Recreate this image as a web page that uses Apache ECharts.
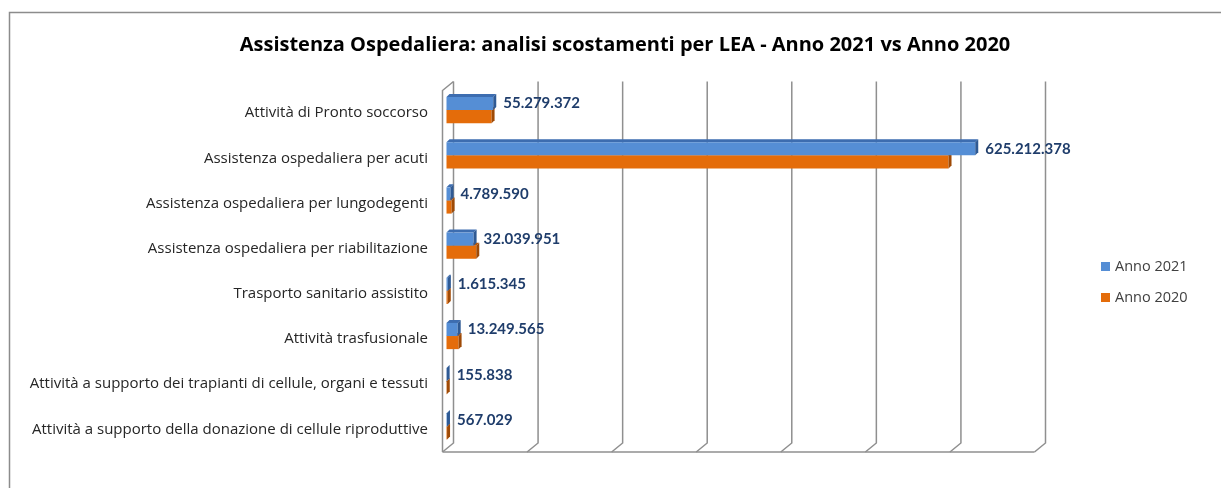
<!DOCTYPE html>
<html>
<head>
<meta charset="utf-8">
<script src="https://cdn.jsdelivr.net/npm/echarts@6/dist/echarts.min.js"></script>
<style>
  html, body { margin: 0; padding: 0; background: #fff; }
  #chart { width: 1221px; height: 488px; }
</style>
</head>
<body>
<div id="chart"></div>
<script>
// Categories (top to bottom) and yearly values in euro
const categories = [
  'Attività di Pronto soccorso',
  'Assistenza ospedaliera per acuti',
  'Assistenza ospedaliera per lungodegenti',
  'Assistenza ospedaliera per riabilitazione',
  'Trasporto sanitario assistito',
  'Attività trasfusionale',
  'Attività a supporto dei trapianti di cellule, organi e tessuti',
  'Attività a supporto della donazione di cellule riproduttive'
];
const anno2021 = [55279372, 625212378, 4789590, 32039951, 1615345, 13249565, 155838, 567029];
const anno2020 = [53300000, 593600000, 6000000, 35200000, 1500000, 14300000, 300000, 650000];
// Gridline positions on the value axis
const gridTicks = [0, 100000000, 200000000, 300000000, 400000000, 500000000, 600000000, 700000000];

const FONT = '"Open Sans", Lato, sans-serif';
const LABEL_FONT = 'Lato, "Open Sans", sans-serif';
const DEPTH_WALL_X = 5.5, DEPTH_WALL_Y = 4.5;   // half depth of the 3D walls
const BAR_DEPTH = 3;

function fmtIt(n) {
  return String(Math.round(n)).replace(/\B(?=(\d{3})+(?!\d))/g, '.');
}

// Back wall gridlines + floor slants + left wall
function renderWalls(params, api) {
  const v = api.value(0);
  const cs = params.coordSys;
  const p = api.coord([v, 0]);
  const x = p[0];
  const top = cs.y, bottom = cs.y + cs.height;
  const bx = x + DEPTH_WALL_X, by0 = top - DEPTH_WALL_Y, by1 = bottom - DEPTH_WALL_Y;
  const fx = x - DEPTH_WALL_X, fy1 = bottom + DEPTH_WALL_Y;
  const lineStyle = { stroke: '#8f8f8f', lineWidth: 1.5, fill: null };
  const children = [{
    type: 'polyline',
    shape: { points: [[bx, by0], [bx, by1], [fx, fy1]] },
    style: lineStyle, silent: true
  }];
  if (v === 0) {
    // left wall: front edge + top slant
    children.push({
      type: 'polyline',
      shape: { points: [[fx, fy1], [fx, top + DEPTH_WALL_Y], [bx, by0]] },
      style: lineStyle, silent: true
    });
    // floor front edge
    const pEnd = api.coord([gridTicks[gridTicks.length - 1], 0]);
    children.push({
      type: 'line',
      shape: { x1: fx, y1: fy1, x2: pEnd[0] - DEPTH_WALL_X, y2: fy1 },
      style: lineStyle, silent: true
    });
  }
  return { type: 'group', children: children };
}

function barRenderer(upper, colors, withLabel) {
  return function (params, api) {
    const cat = api.value(0), val = api.value(1);
    const start = api.coord([0, cat]);
    const end = api.coord([val, cat]);
    const band = api.size([0, 1])[1];
    const h = band * 0.29;
    const d = BAR_DEPTH;
    const x0 = start[0] - 1.5, x1 = end[0] - 1.5;
    const yTop = start[1] + 1.5 + (upper ? -h : 0);
    const yBot = yTop + h;
    const children = [
      { type: 'polygon', shape: { points: [[x0, yTop], [x1, yTop], [x1 + d, yTop - d], [x0 + d, yTop - d]] },
        style: { fill: colors.top } },
      { type: 'rect', shape: { x: x0, y: yTop, width: Math.max(x1 - x0, 0), height: h },
        style: { fill: colors.front } },
      { type: 'polygon', shape: { points: [[x1, yTop], [x1 + d, yTop - d], [x1 + d, yBot - d], [x1, yBot]] },
        style: { fill: colors.side } }
    ];
    if (withLabel) {
      children.push({
        type: 'text',
        style: {
          text: fmtIt(val), x: x1 + d + 7, y: (yTop + yBot) / 2,
          verticalAlign: 'middle', align: 'left',
          fill: '#1f3d6b', font: 'bold 15px ' + LABEL_FONT
        }
      });
    }
    return { type: 'group', children: children };
  };
}

const blue = { front: '#558ed5', top: '#3d6db0', side: '#2f5a94' };
const orange = { front: '#e46c0a', top: '#b85608', side: '#9f4a06' };

const chart = echarts.init(document.getElementById('chart'), null, { renderer: 'canvas' });
chart.setOption({
  backgroundColor: '#fff',
  animation: false,
  title: {
    text: 'Assistenza Ospedaliera: analisi scostamenti per LEA - Anno 2021 vs Anno 2020',
    left: 620, top: 30, textAlign: 'center',
    textStyle: { fontFamily: FONT, fontSize: 20, fontWeight: 'bold', color: '#000' }
  },
  legend: {
    orient: 'vertical', left: 1096, top: 254, itemGap: 16,
    itemWidth: 9, itemHeight: 9,
    textStyle: { fontFamily: FONT, fontSize: 14.5, color: '#404040' },
    data: [
      { name: 'Anno 2021', icon: 'rect', itemStyle: { color: blue.front } },
      { name: 'Anno 2020', icon: 'rect', itemStyle: { color: orange.front } }
    ]
  },
  graphic: [{
    type: 'rect', silent: true,
    shape: { x: 9.5, y: 12.5, width: 1400, height: 700 },
    style: { fill: 'none', stroke: '#8c8c8c', lineWidth: 1.5 }
  }],
  grid: { left: 448, right: 181, top: 86, bottom: 40.5, containLabel: false },
  xAxis: {
    type: 'value', min: 0, max: 700000000, interval: 100000000,
    axisLine: { show: false }, axisTick: { show: false },
    axisLabel: { show: false }, splitLine: { show: false }
  },
  yAxis: {
    type: 'category', data: categories, inverse: true,
    axisLine: { show: false }, axisTick: { show: false },
    axisLabel: {
      margin: 20, fontFamily: FONT, fontSize: 15, color: '#262626',
      verticalAlign: 'top', lineHeight: 9
    }
  },
  series: [
    {
      name: 'walls', type: 'custom', clip: false, silent: true, z: 1,
      data: gridTicks.map(v => [v, 0]),
      encode: { x: 0, y: 1 },
      renderItem: renderWalls
    },
    {
      name: 'Anno 2020', type: 'custom', clip: false, z: 2,
      itemStyle: { color: orange.front },
      data: anno2020.map((v, i) => [i, v]),
      encode: { x: 1, y: 0 },
      renderItem: barRenderer(false, orange, false)
    },
    {
      name: 'Anno 2021', type: 'custom', clip: false, z: 3,
      itemStyle: { color: blue.front },
      data: anno2021.map((v, i) => [i, v]),
      encode: { x: 1, y: 0 },
      renderItem: barRenderer(true, blue, true)
    }
  ]
});
</script>
</body>
</html>
